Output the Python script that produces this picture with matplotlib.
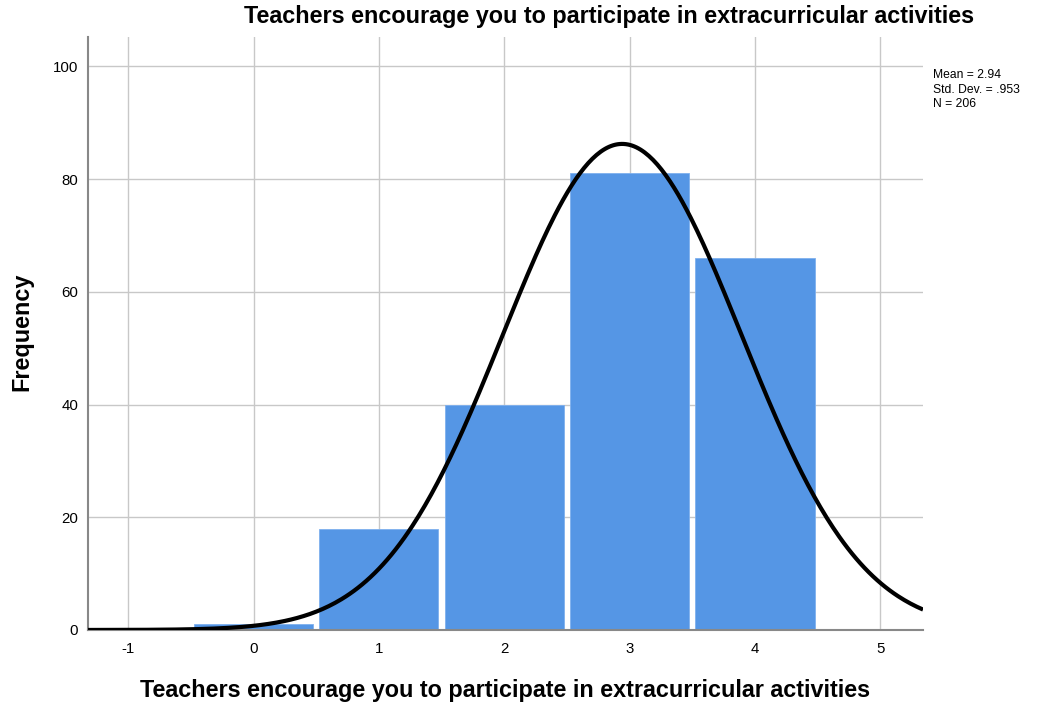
import numpy as np
import matplotlib.pyplot as plt

plt.rcParams['font.family'] = ['Liberation Sans', 'DejaVu Sans']

# histogram data
values = [0, 1, 2, 3, 4]
counts = [1, 18, 40, 81, 66]
mean = 2.94
sd = 0.953
n = 206
xticks = [-1, 0, 1, 2, 3, 4, 5]
xtick_labels = ['-1', '0', '1', '2', '3', '4', '5']

title = 'Teachers encourage you to participate in extracurricular activities'

fig = plt.figure(figsize=(10.53, 7.08), dpi=100)
ax = fig.add_axes([0.0836, 0.1102, 0.7930, 0.8375])

ax.bar(values, counts, width=0.95, color='#5596e5', edgecolor='#7eb0ee',
       linewidth=0.6, zorder=2)

# fitted normal curve (scaled to counts, bin width 1)
xs = np.linspace(-1.32, 5.34, 400)
ys = n / (sd * np.sqrt(2 * np.pi)) * np.exp(-0.5 * ((xs - mean) / sd) ** 2)
ax.plot(xs, ys, color='black', lw=3, zorder=3, solid_capstyle='butt')

ax.set_xlim(-1.32, 5.34)
ax.set_ylim(0, 105.2)
ax.set_xticks(xticks)
ax.set_xticklabels(xtick_labels)
ax.set_yticks(range(0, 101, 20))
ax.grid(True, color='#c8c8c8', lw=1)
ax.set_axisbelow(True)
for s in ['top', 'right']:
    ax.spines[s].set_visible(False)
for s in ['left', 'bottom']:
    ax.spines[s].set_color('#888888')
    ax.spines[s].set_linewidth(1.5)
ax.tick_params(length=0, labelsize=10.8)
ax.tick_params(axis='y', pad=7)
ax.tick_params(axis='x', pad=9)

ax.set_xlabel(title, fontsize=16.8, fontweight='bold', labelpad=16)
fig.text(0.021, 0.531, 'Frequency', rotation=90, ha='center', va='center',
         fontsize=16.8, fontweight='bold')
fig.text(0.578, 0.976, title, ha='center', va='center', fontsize=16.8,
         fontweight='bold')

fig.text(0.886, 0.902, 'Mean = %.2f\nStd. Dev. = .953\nN = %d' % (mean, n),
         ha='left', va='top', fontsize=8.7, linespacing=1.25)

plt.savefig('out.png', dpi=100)
